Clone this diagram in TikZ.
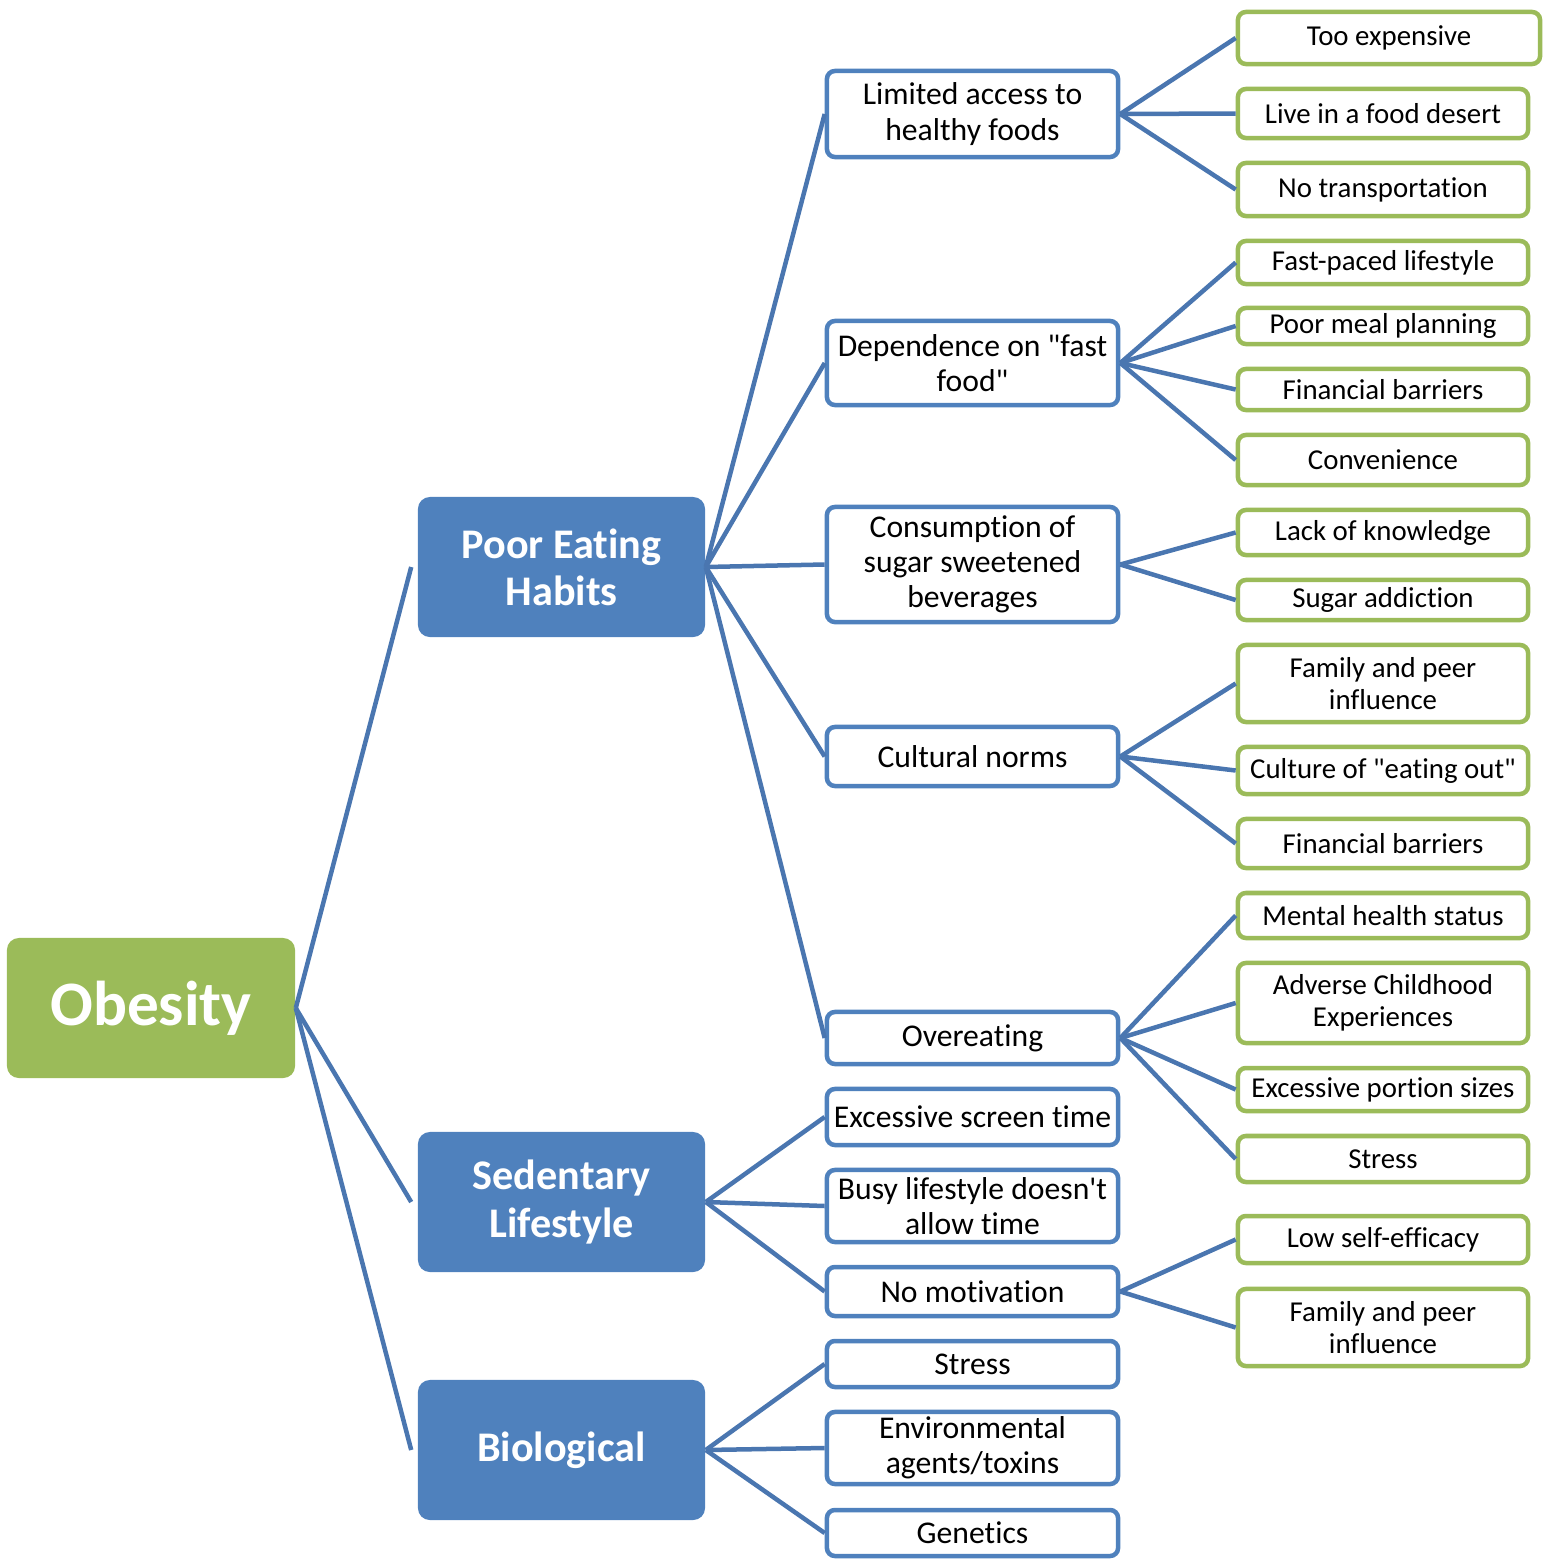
\documentclass[tikz,border=0pt]{standalone}
\usepackage{fontspec}
\setmainfont{Carlito}[Ligatures={CommonOff,ContextualOff,RareOff},Contextuals=AlternateOff]
\usepackage{tikz}
\definecolor{g0}{HTML}{9BBB59}
\definecolor{b0}{HTML}{4F81BD}
\definecolor{b1}{HTML}{4A76B0}

\tikzset{
  root/.style={rectangle,rounded corners=0.12cm,fill=g0,text=white,inner sep=0pt,align=center,
    font=\fontsize{18}{22}\selectfont\bfseries,minimum width=2.88cm,minimum height=1.40cm},
  cat/.style={rectangle,rounded corners=0.12cm,fill=b0,text=white,inner sep=0pt,align=center,
    font=\fontsize{12}{13.4}\selectfont\bfseries,minimum width=2.87cm,minimum height=1.40cm},
  sub/.style={rectangle,rounded corners=0.08cm,draw=b0,line width=0.045cm,fill=white,inner sep=0pt,
    align=center,font=\fontsize{9}{10}\selectfont,minimum width=2.91cm},
  leaf/.style={rectangle,rounded corners=0.08cm,draw=g0,line width=0.045cm,fill=white,inner sep=0pt,
    align=center,font=\fontsize{8.2}{9.1}\selectfont,minimum width=2.90cm},
  link/.style={draw=b1,line width=0.045cm}
}

\begin{document}
\begin{tikzpicture}[x=0.01cm,y=-0.01cm]

\useasboundingbox (0,0) rectangle (1551,1560);

% root and categories
\node[root] (obesity) at (151,1008) {Obesity};
\node[cat] (eating) at (561.5,567) {Poor Eating\\Habits};
\node[cat] (sedentary) at (561.5,1202) {Sedentary\\Lifestyle};
\node[cat] (bio) at (561.5,1450) {Biological};

% second level
\node[sub,minimum height=0.86cm] (access) at (972.5,114) {Limited access to\\healthy foods};
\node[sub,minimum height=0.84cm] (fast) at (972.5,363) {Dependence on \textquotedbl fast\\food\textquotedbl};
\node[sub,minimum height=1.15cm] (sugar) at (972.5,564.5) {Consumption of\\sugar sweetened\\beverages};
\node[sub,minimum height=0.59cm] (culture) at (972.5,756.5) {Cultural norms};
\node[sub,minimum height=0.52cm] (over) at (972.5,1038) {Overeating};
\node[sub,minimum height=0.56cm] (screen) at (972.5,1117) {Excessive screen time};
\node[sub,minimum height=0.72cm] (busy) at (972.5,1206) {Busy lifestyle doesn\textquotesingle t\\allow time};
\node[sub,minimum height=0.49cm] (motiv) at (972.5,1291.5) {No motivation};
\node[sub,minimum height=0.46cm] (bstress) at (972.5,1364) {Stress};
\node[sub,minimum height=0.72cm] (toxins) at (972.5,1448) {Environmental\\agents/toxins};
\node[sub,minimum height=0.46cm] (genes) at (972.5,1533) {Genetics};

% third level
\node[leaf,minimum width=3.02cm,minimum height=0.52cm] (expensive) at (1389,38) {Too expensive};
\node[leaf,minimum height=0.49cm] (desert) at (1383,113.5) {Live in a food desert};
\node[leaf,minimum height=0.53cm] (transport) at (1383,189.5) {No transportation};
\node[leaf,minimum height=0.43cm] (paced) at (1383,262.5) {Fast-paced lifestyle};
\node[leaf,minimum height=0.36cm] (planning) at (1383,326) {Poor meal planning};
\node[leaf,minimum height=0.41cm] (finance) at (1383,389.5) {Financial barriers};
\node[leaf,minimum height=0.50cm] (conv) at (1383,460) {Convenience};
\node[leaf,minimum height=0.45cm] (know) at (1383,532.5) {Lack of knowledge};
\node[leaf,minimum height=0.40cm] (addict) at (1383,600) {Sugar addiction};
\node[leaf,minimum height=0.77cm] (family) at (1383,683.5) {Family and peer\\influence};
\node[leaf,minimum height=0.47cm] (eatout) at (1383,770.5) {Culture of \textquotedbl eating out\textquotedbl};
\node[leaf,minimum height=0.49cm] (financeb) at (1383,843.5) {Financial barriers};
\node[leaf,minimum height=0.45cm] (mental) at (1383,915.5) {Mental health status};
\node[leaf,minimum height=0.80cm] (adverse) at (1383,1003) {Adverse Childhood\\Experiences};
\node[leaf,minimum height=0.43cm] (portion) at (1383,1089.5) {Excessive portion sizes};
\node[leaf,minimum height=0.46cm] (ostress) at (1383,1159) {Stress};
\node[leaf,minimum height=0.47cm] (efficacy) at (1383,1239.5) {Low self-efficacy};
\node[leaf,minimum height=0.77cm] (familyb) at (1383,1327.5) {Family and peer\\influence};

% connectors
\draw[link] (obesity.east) -- ([xshift=-0.06cm]eating.west);
\draw[link] (obesity.east) -- ([xshift=-0.06cm]sedentary.west);
\draw[link] (obesity.east) -- ([xshift=-0.06cm]bio.west);

\draw[link] (eating.east) -- (access.west);
\draw[link] (eating.east) -- (fast.west);
\draw[link] (eating.east) -- (sugar.west);
\draw[link] (eating.east) -- (culture.west);
\draw[link] (eating.east) -- (over.west);

\draw[link] (sedentary.east) -- (screen.west);
\draw[link] (sedentary.east) -- (busy.west);
\draw[link] (sedentary.east) -- (motiv.west);

\draw[link] (bio.east) -- (bstress.west);
\draw[link] (bio.east) -- (toxins.west);
\draw[link] (bio.east) -- (genes.west);

\draw[link] (access.east) -- (expensive.west);
\draw[link] (access.east) -- (desert.west);
\draw[link] (access.east) -- (transport.west);

\draw[link] (fast.east) -- (paced.west);
\draw[link] (fast.east) -- (planning.west);
\draw[link] (fast.east) -- (finance.west);
\draw[link] (fast.east) -- (conv.west);

\draw[link] (sugar.east) -- (know.west);
\draw[link] (sugar.east) -- (addict.west);

\draw[link] (culture.east) -- (family.west);
\draw[link] (culture.east) -- (eatout.west);
\draw[link] (culture.east) -- (financeb.west);

\draw[link] (over.east) -- (mental.west);
\draw[link] (over.east) -- (adverse.west);
\draw[link] (over.east) -- (portion.west);
\draw[link] (over.east) -- (ostress.west);

\draw[link] (motiv.east) -- (efficacy.west);
\draw[link] (motiv.east) -- (familyb.west);

\end{tikzpicture}
\end{document}
